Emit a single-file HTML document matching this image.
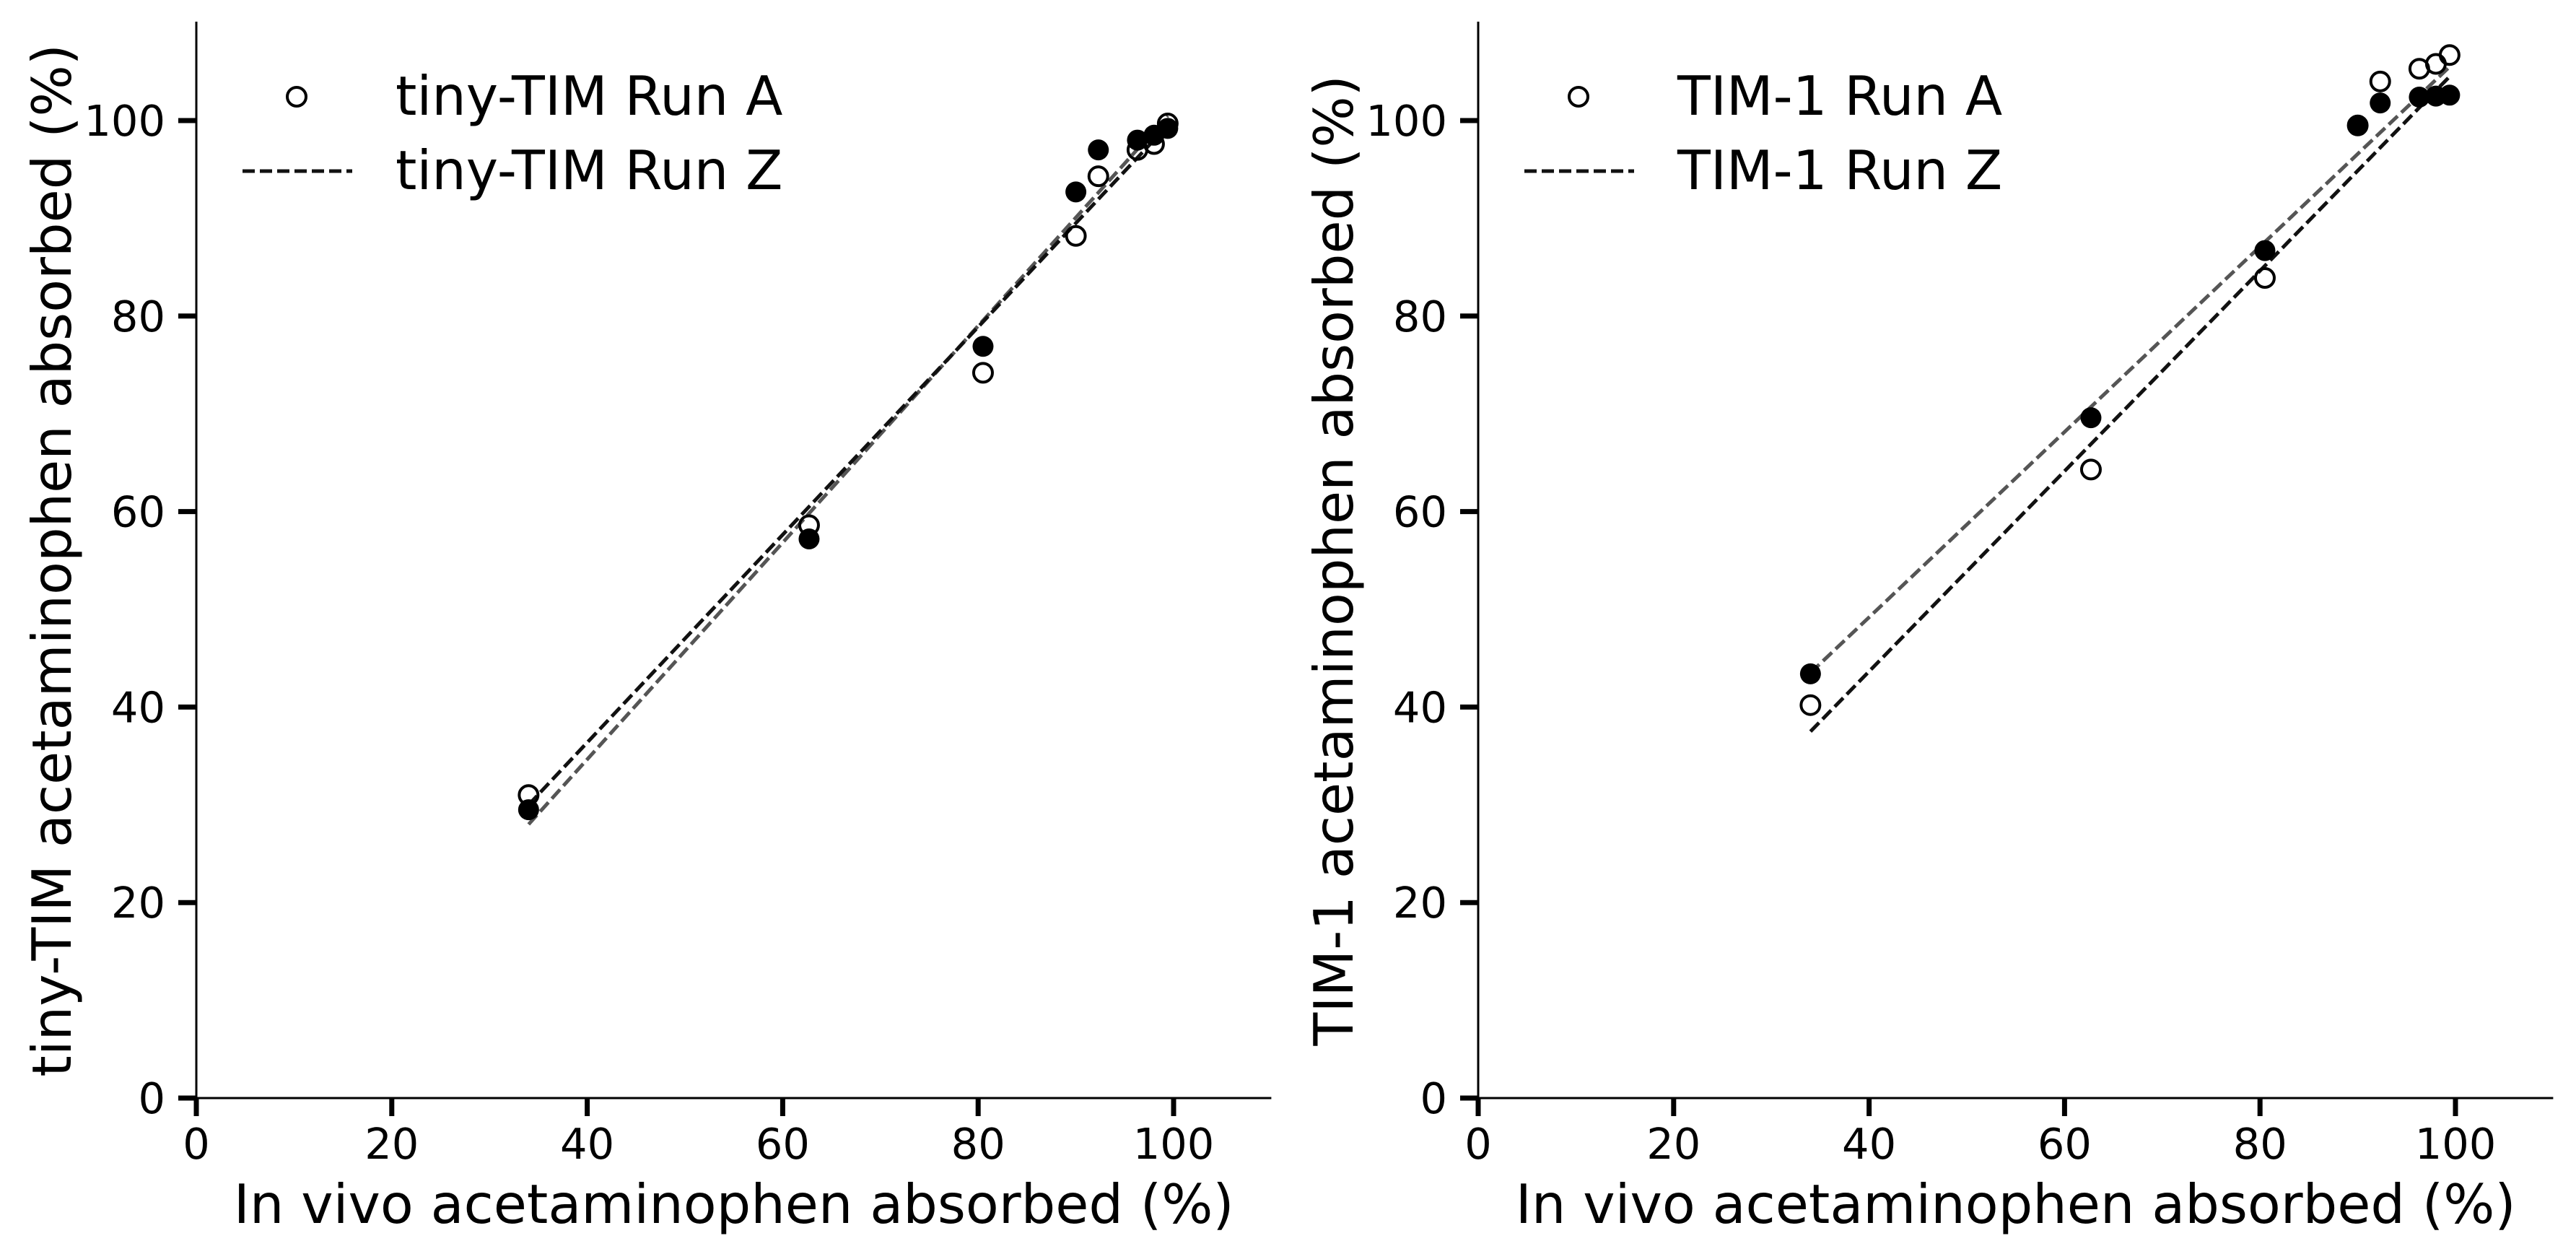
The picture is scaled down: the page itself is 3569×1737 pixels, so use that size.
<!DOCTYPE html>
<html><head><meta charset="utf-8"><style>
html,body{margin:0;padding:0;background:#fff}
svg{display:block;font-family:"DejaVu Sans","Liberation Sans",sans-serif}
</style></head><body>
<svg id="chart" width="3569" height="1737" viewBox="0 0 3569 1737" xmlns="http://www.w3.org/2000/svg"></svg>
<script>
const xTicks=[0,20,40,60,80,100];
const yTicks=[0,20,40,60,80,100];
const invivo=[34,62.7,80.5,90,92.3,96.3,98,99.4];
const tinyRunA=[31,58.6,74.2,88.2,94.3,97,97.6,99.7];
const tinyRunZ=[29.5,57.2,76.9,92.7,97,98,98.5,99.2];
const tinyFitA=[[34,30],[99.4,99.5]];
const tinyFitZ=[[34,28],[99.4,100.5]];
const timRunA=[40.2,64.3,83.9,99.5,104,105.3,105.8,106.7];
const timRunZ=[43.4,69.6,86.7,99.5,101.8,102.4,102.5,102.6];
const timFitA=[[34,37.5],[99.4,104.5]];
const timFitZ=[[34,43.5],[99.4,105.5]];

const svg=document.getElementById('chart');
const NS='http://www.w3.org/2000/svg';
function mk(tag,attrs,parent,text){const e=document.createElementNS(NS,tag);for(const k in attrs)e.setAttribute(k,attrs[k]);if(text!==undefined)e.textContent=text;(parent||svg).appendChild(e);return e;}

const panels=[
 {x0:272,name:'tiny-tim',ylabel:'tiny-TIM acetaminophen absorbed (%)',a:tinyRunA,z:tinyRunZ,fa:tinyFitA,fz:tinyFitZ,la:'tiny-TIM Run A',lz:'tiny-TIM Run Z'},
 {x0:2048,name:'tim-1',ylabel:'TIM-1 acetaminophen absorbed (%)',a:timRunA,z:timRunZ,fa:timFitA,fz:timFitZ,la:'TIM-1 Run A',lz:'TIM-1 Run Z'}
];
const Y0=1521,YS=13.54,XS=13.54;
panels.forEach(p=>{
 const g=mk('g',{});
 
 
 const X=v=>p.x0+v*XS, Y=v=>Y0-v*YS;
 const ax=mk('line',{x1:X(0),y1:Y0,x2:X(110),y2:Y0,stroke:'#000','stroke-width':3},g);
 
 
 const ay=mk('line',{x1:X(0),y1:Y0,x2:X(0),y2:30,stroke:'#000','stroke-width':3},g);
 
 
 xTicks.forEach(t=>{
  mk('line',{x1:X(t),y1:Y0,x2:X(t),y2:Y0+25,stroke:'#000','stroke-width':7},g);
  const tl=mk('text',{x:X(t),y:1605,'text-anchor':'middle','font-size':59},g,String(t));
  
  
 });
 yTicks.forEach(t=>{
  mk('line',{x1:X(0)-25,y1:Y(t),x2:X(0),y2:Y(t),stroke:'#000','stroke-width':7},g);
  const tl=mk('text',{x:X(0)-43,y:Y(t)+21,'text-anchor':'end','font-size':59},g,String(t));
  
  
 });
 const xl=mk('text',{x:X(55),y:1694,'text-anchor':'middle','font-size':75},g,'In vivo acetaminophen absorbed (%)');
 
 
 const yl=mk('text',{x:0,y:0,'text-anchor':'middle','font-size':75,transform:`translate(${p.x0-174},${Y(55)}) rotate(-90)`},g,p.ylabel);
 
 
 const l1=mk('line',{x1:X(p.fz[0][0]),y1:Y(p.fz[0][1]),x2:X(p.fz[1][0]),y2:Y(p.fz[1][1]),stroke:'#555','stroke-width':5,'stroke-dasharray':'17,7'},g);
 
 
 const l2=mk('line',{x1:X(p.fa[0][0]),y1:Y(p.fa[0][1]),x2:X(p.fa[1][0]),y2:Y(p.fa[1][1]),stroke:'#111','stroke-width':5,'stroke-dasharray':'17,7'},g);
 
 
 invivo.forEach((v,i)=>{
  const c=mk('circle',{cx:X(v),cy:Y(p.z[i]),r:14.5,fill:'#000'},g);
  
  
 });
 invivo.forEach((v,i)=>{
  const c=mk('circle',{cx:X(v),cy:Y(p.a[i]),r:13,fill:'none',stroke:'#000','stroke-width':4},g);
  
  
 });
 const lg=mk('g',{},g);
 
 
 mk('circle',{cx:p.x0+139,cy:134,r:13,fill:'none',stroke:'#000','stroke-width':4},lg);
 const t1=mk('text',{x:p.x0+276,y:159,'font-size':75},lg,p.la);
 
 
 mk('line',{x1:p.x0+64,y1:237,x2:p.x0+216,y2:237,stroke:'#111','stroke-width':5,'stroke-dasharray':'17,7'},lg);
 const t2=mk('text',{x:p.x0+276,y:262,'font-size':75},lg,p.lz);
 
 
});
</script>
</body></html>
